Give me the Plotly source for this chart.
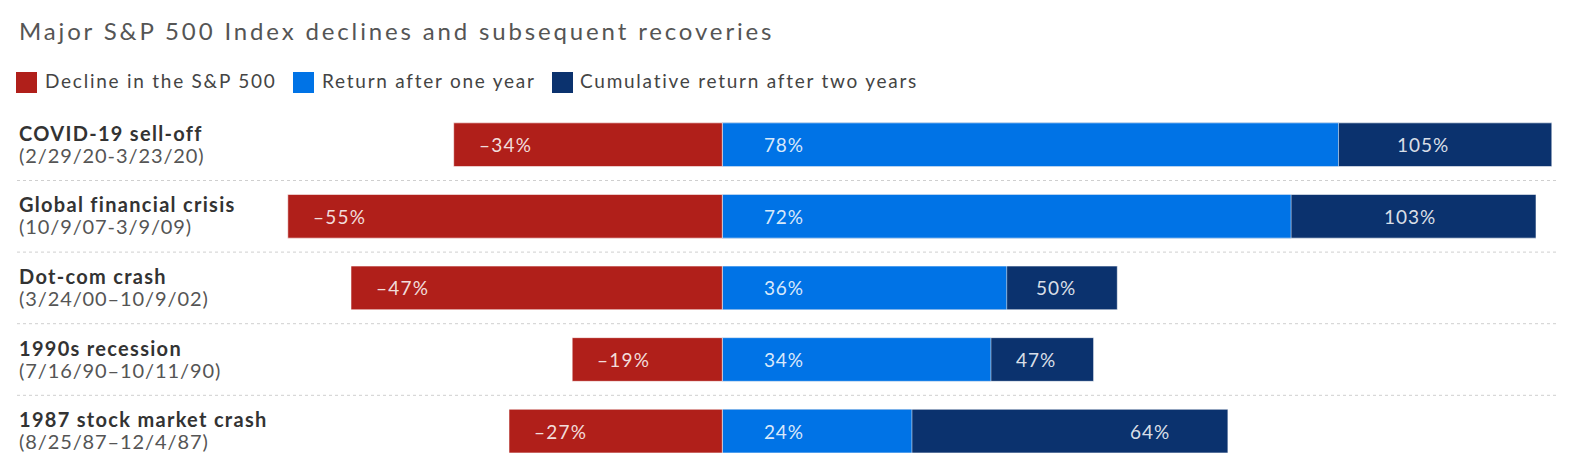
import plotly.graph_objects as go

# ---- data ----
categories = ["COVID-19 sell-off", "Global financial crisis", "Dot-com crash",
              "1990s recession", "1987 stock market crash"]
periods = ["(2/29/20-3/23/20)", "(10/9/07-3/9/09)", "(3/24/00–10/9/02)",
           "(7/16/90–10/11/90)", "(8/25/87–12/4/87)"]
decline = [-34, -55, -47, -19, -27]
one_year = [78, 72, 36, 34, 24]
two_year = [105, 103, 50, 47, 64]

series_names = ["Decline in the S&P 500", "Return after one year",
                "Cumulative return after two years"]
title_text = "Major S&P 500 Index declines and subsequent recoveries"

# ---- style ----
W, H = 1577, 475
RED, BLUE, NAVY = "#B01F1A", "#0073E6", "#0B326E"
FONT = "Lato"
LABEL_COLOR = "rgba(255,255,255,0.86)"
EDGE = dict(color="rgba(255,255,255,0.55)", width=1)
BAR_W = 0.61


def sp(text, ls):
    return f"<span style='letter-spacing:{ls}px'>{text}</span>"


fig = go.Figure()
fig.add_trace(go.Bar(y=categories, x=two_year, orientation="h", name=series_names[2],
                     marker=dict(color=NAVY, line=EDGE), width=BAR_W, hoverinfo="x"))
fig.add_trace(go.Bar(y=categories, x=one_year, orientation="h", name=series_names[1],
                     marker=dict(color=BLUE, line=EDGE), width=BAR_W, hoverinfo="x"))
fig.add_trace(go.Bar(y=categories, x=decline, orientation="h", name=series_names[0],
                     marker=dict(color=RED, line=EDGE), width=BAR_W, hoverinfo="x"))

ann = []
shapes = []
lab_font = dict(family=FONT, size=19, color=LABEL_COLOR)
for i, cat in enumerate(categories):
    # value labels
    ann.append(dict(x=decline[i], y=cat, xref="x", yref="y", xanchor="left", yanchor="middle",
                    xshift=23, text=sp(f"–{abs(decline[i])}%", 1.2), showarrow=False,
                    font=lab_font))
    ann.append(dict(x=0, y=cat, xref="x", yref="y", xanchor="left", yanchor="middle",
                    xshift=40, text=sp(f"{one_year[i]}%", 0.8), showarrow=False, font=lab_font))
    ann.append(dict(x=two_year[i] * 0.845, y=cat, xref="x", yref="y", xanchor="center",
                    yanchor="middle", text=sp(f"{two_year[i]}%", 1.0), showarrow=False,
                    font=lab_font))
    # category labels
    ann.append(dict(x=17 / W, y=cat, xref="paper", yref="y", xanchor="left", yanchor="middle",
                    yshift=12, text=f"<b>{sp(cat, 1.3)}</b>", showarrow=False,
                    font=dict(family=FONT, size=20, color="#333333")))
    ann.append(dict(x=17 / W, y=cat, xref="paper", yref="y", xanchor="left", yanchor="middle",
                    yshift=-10, text=sp(periods[i], 0.9), showarrow=False,
                    font=dict(family=FONT, size=20, color="#555555")))
    # dotted separators
    if i < len(categories) - 1:
        shapes.append(dict(type="line", xref="paper", yref="y", x0=17 / W, x1=1559 / W,
                           y0=i + 0.5, y1=i + 0.5,
                           line=dict(color="#cfcfcf", width=1, dash="dot")))

# title
ann.append(dict(x=17 / W, y=1 - 31 / H, xref="paper", yref="paper", xanchor="left",
                yanchor="middle", text=sp(title_text, 2.85), showarrow=False,
                font=dict(family=FONT, size=24, color="#555555")))

# manual legend
legend_items = [(series_names[0], RED, 16, 43), (series_names[1], BLUE, 293, 320),
                (series_names[2], NAVY, 552, 578)]
for name, col, sx, tx in legend_items:
    shapes.append(dict(type="rect", xref="paper", yref="paper",
                       x0=sx / W, x1=(sx + 21) / W, y0=1 - 93 / H, y1=1 - 72 / H,
                       fillcolor=col, line=dict(width=0)))
    ann.append(dict(x=tx / W, y=1 - 81 / H, xref="paper", yref="paper", xanchor="left",
                    yanchor="middle", text=sp(name, 1.75), showarrow=False,
                    font=dict(family=FONT, size=19, color="#444444")))

zero_px, px_per_unit = 722.3, 7.9
row0_px, row_pitch = 144.7, 71.6
fig.update_layout(
    width=W, height=H, margin=dict(l=0, r=0, t=0, b=0),
    paper_bgcolor="white", plot_bgcolor="white",
    barmode="overlay", showlegend=False,
    xaxis=dict(range=[-zero_px / px_per_unit, (W - zero_px) / px_per_unit],
               visible=False, fixedrange=True),
    yaxis=dict(type="category", categoryorder="array", categoryarray=categories,
               range=[(H - row0_px) / row_pitch, -row0_px / row_pitch],
               visible=False, fixedrange=True),
    annotations=ann, shapes=shapes,
    font=dict(family=FONT),
)
fig.write_html("out.html")
